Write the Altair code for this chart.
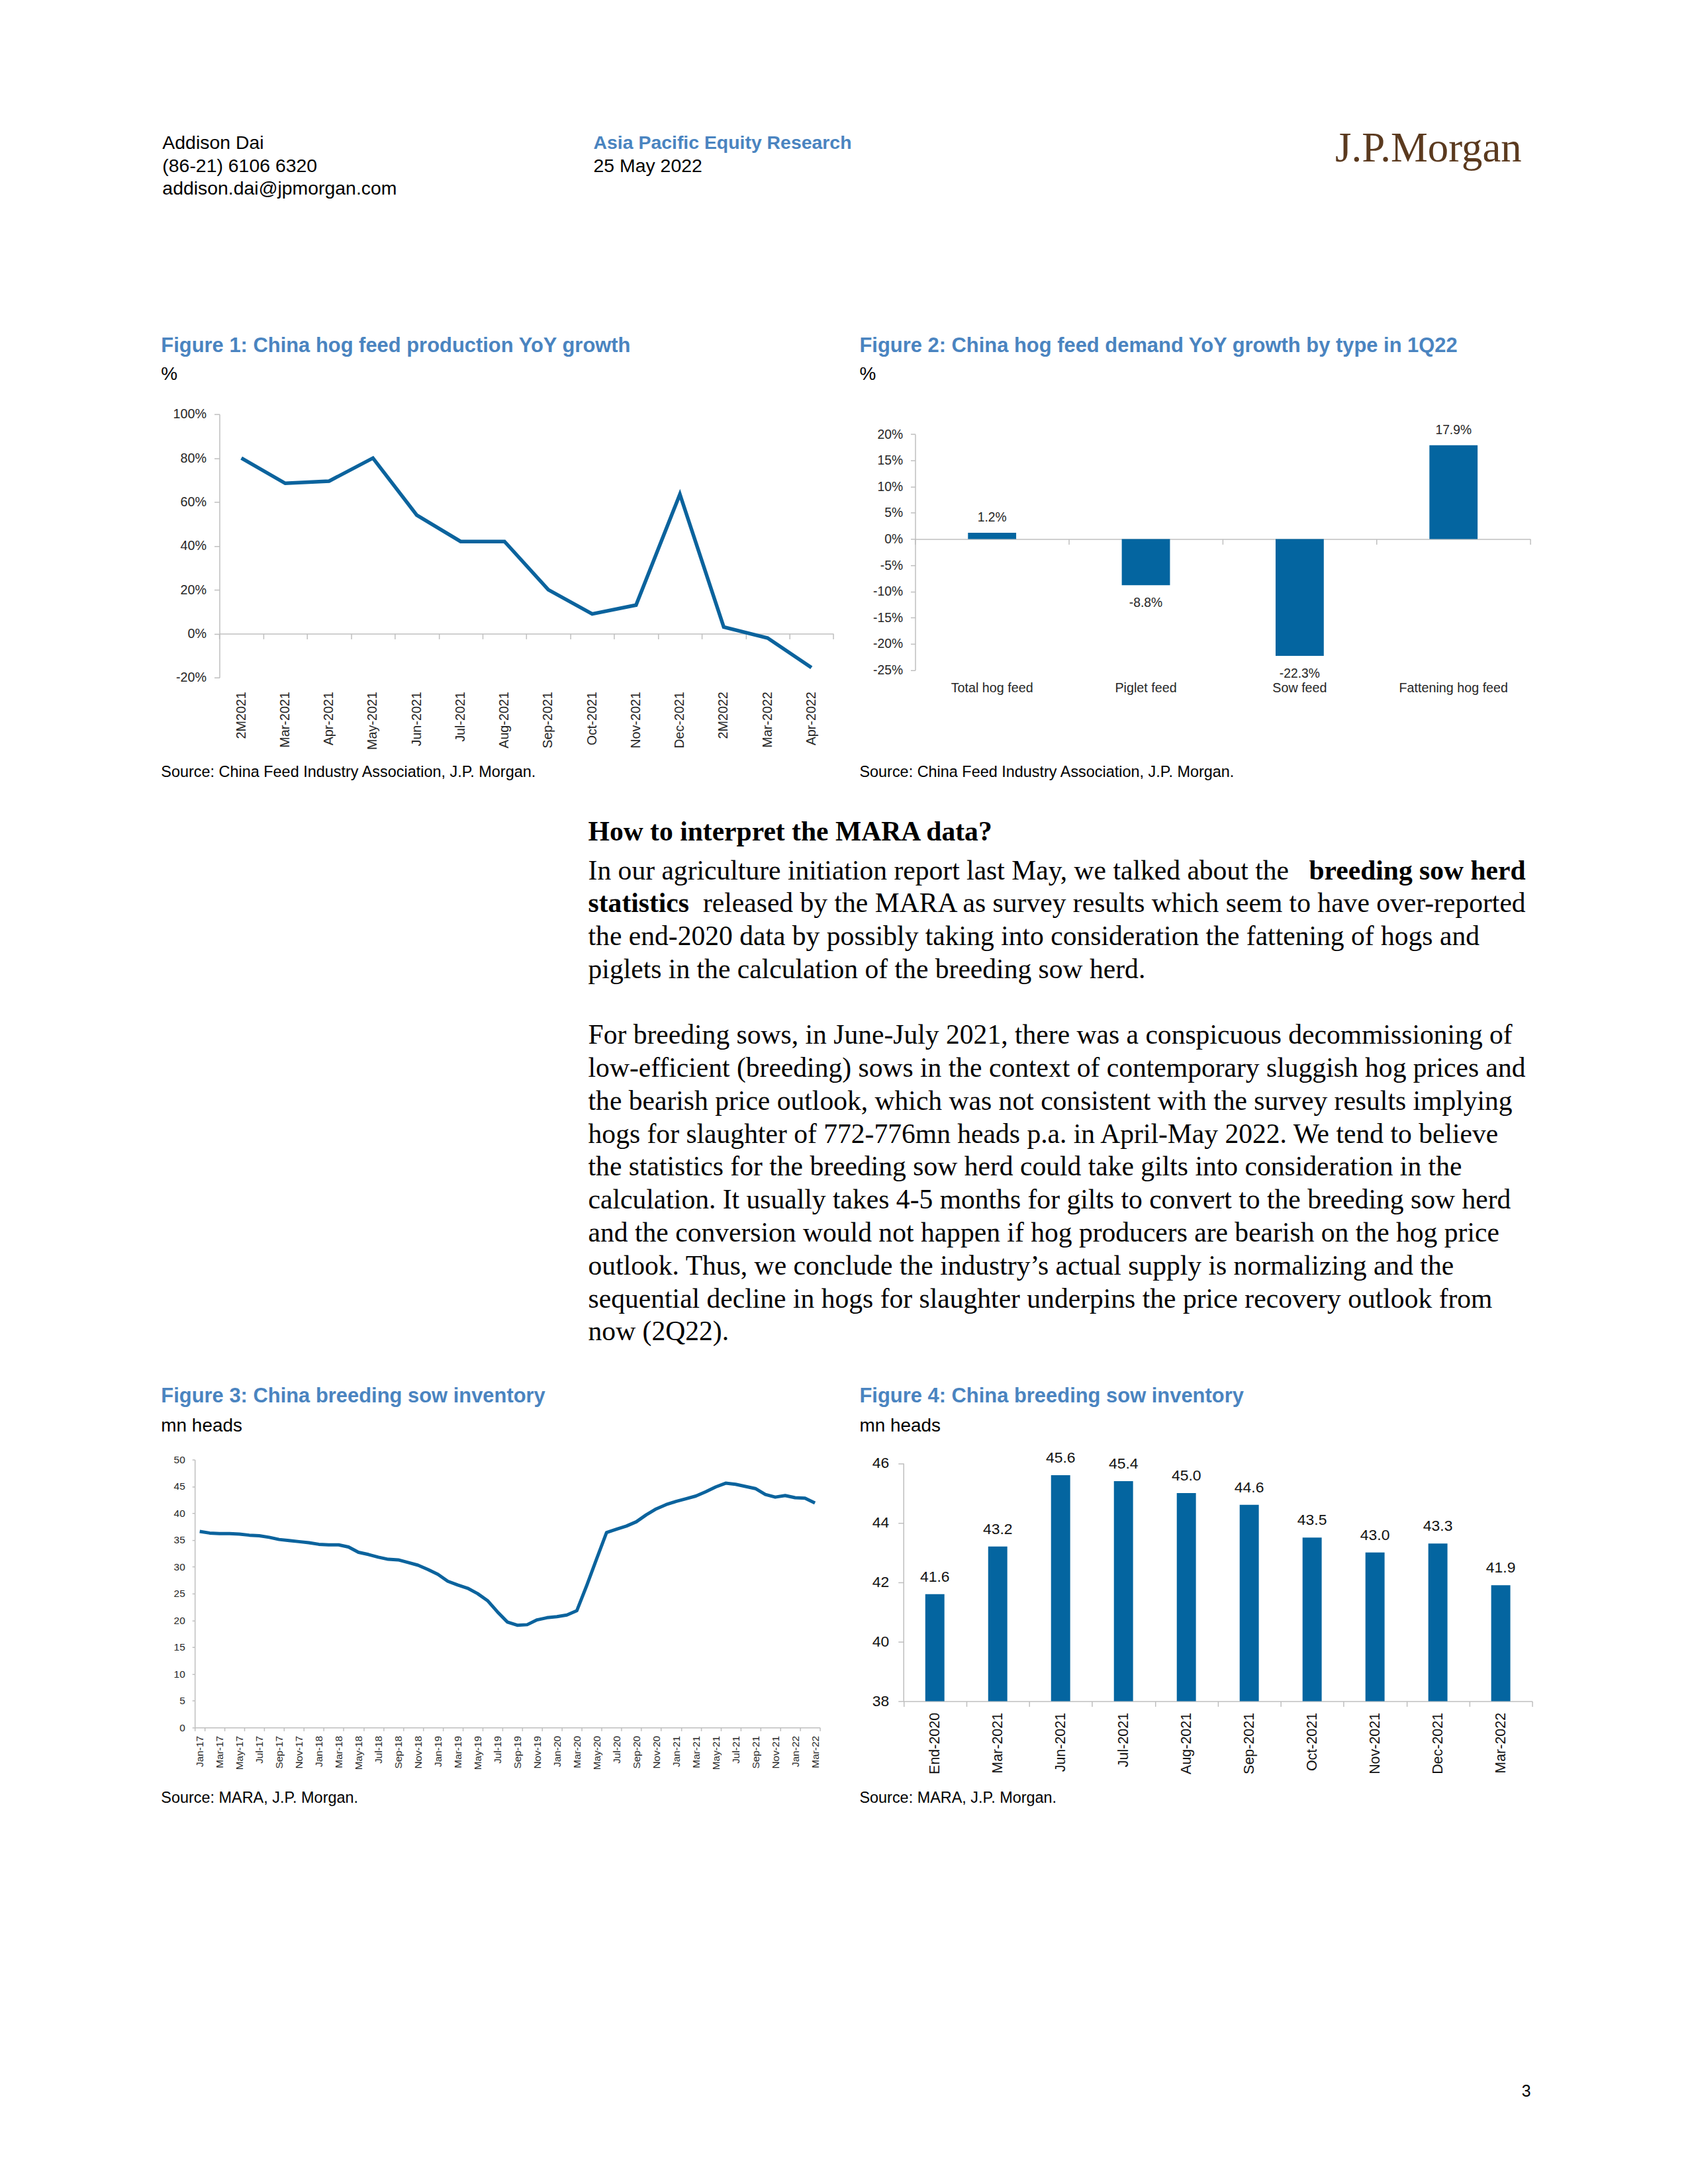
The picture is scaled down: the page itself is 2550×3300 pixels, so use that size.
import altair as alt
import pandas as pd

# ---------------- chart data ----------------
fig1_months = ["2M2021", "Mar-2021", "Apr-2021", "May-2021", "Jun-2021", "Jul-2021", "Aug-2021",
               "Sep-2021", "Oct-2021", "Nov-2021", "Dec-2021", "2M2022", "Mar-2022", "Apr-2022"]
fig1_growth = [80, 68.5, 69.5, 80, 54, 42, 42, 20, 9, 13, 63.5, 3, -2, -15.5]
fig1_ticks = [-20, 0, 20, 40, 60, 80, 100]

fig2_types = ["Total hog feed", "Piglet feed", "Sow feed", "Fattening hog feed"]
fig2_growth = [1.2, -8.8, -22.3, 17.9]
fig2_ticks = [-25, -20, -15, -10, -5, 0, 5, 10, 15, 20]

month_abbr = ["Jan", "Feb", "Mar", "Apr", "May", "Jun", "Jul", "Aug", "Sep", "Oct", "Nov", "Dec"]
fig3_years = ["17", "18", "19", "20", "21", "22"]
fig3_months = [f"{m}-{y}" for y in fig3_years for m in month_abbr][:63]
fig3_sows = [
    36.6, 36.3, 36.2, 36.2, 36.1, 35.9, 35.8, 35.5, 35.1, 34.9, 34.7, 34.5,
    34.2, 34.1, 34.1, 33.7, 32.7, 32.3, 31.8, 31.4, 31.3, 30.8, 30.3, 29.5,
    28.6, 27.3, 26.6, 26.0, 25.0, 23.7, 21.6, 19.7, 19.1, 19.2, 20.1, 20.5,
    20.7, 21.0, 21.8, 26.5, 31.5, 36.4, 37.0, 37.6, 38.4, 39.7, 40.8, 41.6,
    42.2, 42.7, 43.2, 44.0, 44.9, 45.6, 45.4, 45.0, 44.6, 43.5, 43.0, 43.3,
    42.9, 42.8, 41.9,
]
fig3_tick_labels = fig3_months[::2]
fig3_ticks = [0, 5, 10, 15, 20, 25, 30, 35, 40, 45, 50]

fig4_periods = ["End-2020", "Mar-2021", "Jun-2021", "Jul-2021", "Aug-2021", "Sep-2021",
                "Oct-2021", "Nov-2021", "Dec-2021", "Mar-2022"]
fig4_sows = [41.6, 43.2, 45.6, 45.4, 45.0, 44.6, 43.5, 43.0, 43.3, 41.9]
fig4_ticks = [38, 40, 42, 44, 46]

# ---------------- page text ----------------
hdr_author = ["Addison Dai", "(86-21) 6106 6320", "addison.dai@jpmorgan.com"]
hdr_series = "Asia Pacific Equity Research"
hdr_date = "25 May 2022"
hdr_logo = "J.P.Morgan"
fig_titles = ["Figure 1: China hog feed production YoY growth",
              "Figure 2: China hog feed demand YoY growth by type in 1Q22",
              "Figure 3: China breeding sow inventory",
              "Figure 4: China breeding sow inventory"]
fig_units = ["%", "%", "mn heads", "mn heads"]
fig_sources = ["Source: China Feed Industry Association, J.P. Morgan.",
               "Source: China Feed Industry Association, J.P. Morgan.",
               "Source: MARA, J.P. Morgan.",
               "Source: MARA, J.P. Morgan."]
body_heading = "How to interpret the MARA data?"
body_par1 = [
    "In our agriculture initiation report last May, we talked about the **breeding sow herd**",
    "**statistics** released by the MARA as survey results which seem to have over-reported",
    "the end-2020 data by possibly taking into consideration the fattening of hogs and",
    "piglets in the calculation of the breeding sow herd.",
]
body_par2 = [
    "For breeding sows, in June-July 2021, there was a conspicuous decommissioning of",
    "low-efficient (breeding) sows in the context of contemporary sluggish hog prices and",
    "the bearish price outlook, which was not consistent with the survey results implying",
    "hogs for slaughter of 772-776mn heads p.a. in April-May 2022. We tend to believe",
    "the statistics for the breeding sow herd could take gilts into consideration in the",
    "calculation. It usually takes 4-5 months for gilts to convert to the breeding sow herd",
    "and the conversion would not happen if hog producers are bearish on the hog price",
    "outlook. Thus, we conclude the industry\u2019s actual supply is normalizing and the",
    "sequential decline in hogs for slaughter underpins the price recovery outlook from",
    "now (2Q22).",
]
page_number = "3"

# ---------------- style ----------------
SANS = "Liberation Sans, Arial, Helvetica, sans-serif"
NARROW = "Liberation Sans Narrow, Arial Narrow, Liberation Sans, sans-serif"
SERIF = "Liberation Serif, Times New Roman, serif"
INK = "#000000"
LBL = "#262626"
TITLE_BLUE = "#4a84c0"
LINE = "#0b639d"
BAR = "#0465a0"
AXC = "#bfbfbf"
LOGO = "#5b3a1f"
NS = 0.88  # size factor: narrow chart lettering drawn with the regular face

# ---------------- page layout (page pixels) ----------------
OX, OY = 8, 8
W, H = 2530, 3284
COL_L, COL_R = 233, 1291
TXT_L, TXT_R = 880, 2300
BOX = {
    1: (321.4, 623.0, 1251.4, 1022.0),
    2: (1375.3, 653.3, 2307.3, 1010.7),
    3: (284.0, 2207.0, 1231.0, 2613.0),
    4: (1357.5, 2212.5, 2310.0, 2573.0),
}


def text_layer(s, x, y, size, font=SANS, weight="normal", color=INK, align="left"):
    return alt.Chart(pd.DataFrame({"t": [s]})).mark_text(
        align=align, baseline="alphabetic", font=font, fontSize=size,
        fontWeight=weight, color=color, limit=0
    ).encode(x=alt.value(x - OX), y=alt.value(y - OY), text="t:N")


def band_scale(cats, box):
    return alt.Scale(type="band", domain=cats, range=[box[0] - OX, box[2] - OX],
                     paddingInner=0, paddingOuter=0)


def lin_scale(dom, box):
    return alt.Scale(type="linear", domain=dom, range=[box[3] - OY, box[1] - OY],
                     nice=False, zero=False)


def y_at(v, dom, box):
    return (box[3] - OY) - (v - dom[0]) / (dom[1] - dom[0]) * (box[3] - box[1])


def left_axis(box, values, size, pad, font, tick=8, expr=None, color=LBL):
    kw = dict(orient="left", offset=-(box[0] - OX), values=values, title=None, grid=False,
              domainColor=AXC, domainWidth=1.5, tickColor=AXC, tickWidth=1.5, tickSize=tick,
              labelPadding=pad, labelFont=font, labelFontSize=size, labelColor=color,
              labelOverlap=False, labelLimit=0)
    if expr:
        kw["labelExpr"] = expr
    return alt.Axis(**kw)


layers = []

# ---- header ----
for i, s in enumerate(hdr_author):
    layers.append(text_layer(s, COL_L + 2, [221.5, 256, 290][i], 28.5))
layers.append(text_layer(hdr_series, 888, 221.5, 28.5, weight="bold", color=TITLE_BLUE))
layers.append(text_layer(hdr_date, 888, 256, 28.5))
layers.append(text_layer(hdr_logo, 2294, 240, 63, font=SERIF, color=LOGO, align="right"))

# ---- figure titles / units / sources ----
fig_x = [COL_L, COL_R, COL_L, COL_R]
title_y = [529, 529, 2120, 2120]
unit_y = [571, 571, 2164, 2164]
src_y = [1173, 1173, 2727, 2727]
for i in range(4):
    layers.append(text_layer(fig_titles[i], fig_x[i], title_y[i], 31, weight="bold",
                             color=TITLE_BLUE))
    layers.append(text_layer(fig_units[i], fig_x[i], unit_y[i], 28))
    layers.append(text_layer(fig_sources[i], fig_x[i], src_y[i], 23.5))

# ---- body text ----
LH = 49.9
layers.append(text_layer(body_heading, TXT_L, 1269, 41.7, font=SERIF, weight="bold"))


def body_line(s, y):
    parts = s.split("**")
    if len(parts) == 1:
        return [text_layer(s, TXT_L, y, 41.7, font=SERIF)]
    pre, bold, post = parts[0], parts[1], parts[2]
    if pre.strip() == "":
        return [text_layer(bold, TXT_L, y, 41.7, font=SERIF, weight="bold"),
                text_layer(post.strip(), TXT_R, y, 41.7, font=SERIF, align="right")]
    return [text_layer(pre.strip(), TXT_L, y, 41.7, font=SERIF),
            text_layer(bold, TXT_R, y, 41.7, font=SERIF, weight="bold", align="right")]


for k, s in enumerate(body_par1):
    layers += body_line(s, 1327.7 + k * LH)
for k, s in enumerate(body_par2):
    layers += body_line(s, 1327.7 + (k + len(body_par1) + 1) * LH)

layers.append(text_layer(page_number, 2308, 3172, 25, align="right"))

# ---- Figure 1: line ----
b1, dom1 = BOX[1], [-20, 100]
df1 = pd.DataFrame({"m": fig1_months, "v": fig1_growth})
x1s, y1s = band_scale(fig1_months, b1), lin_scale(dom1, b1)
layers.append(alt.Chart(df1).mark_point(opacity=0).encode(
    x=alt.X("m:N", scale=x1s, axis=alt.Axis(
        orient="bottom", offset=y_at(0, dom1, b1) - H, labels=False, title=None, grid=False,
        domainColor=AXC, domainWidth=1.5, tickColor=AXC, tickWidth=1.5, tickSize=8,
        tickBand="extent")),
    y=alt.Y("v:Q", scale=y1s, axis=None)))
layers.append(alt.Chart(df1).mark_line(color=LINE, strokeWidth=5.5).encode(
    x=alt.X("m:N", scale=x1s, bandPosition=0.5, axis=alt.Axis(
        orient="bottom", offset=(b1[3] - OY) - H, domain=False, ticks=False, tickSize=0,
        labelAngle=-90, labelPadding=21, labelFont=NARROW, labelFontSize=22.5 * NS,
        labelColor=LBL, title=None, grid=False, labelOverlap=False, labelLimit=0)),
    y=alt.Y("v:Q", scale=y1s,
            axis=left_axis(b1, fig1_ticks, 22.5 * NS, 12, NARROW, expr="datum.value + '%'"))))

# ---- Figure 2: bars ----
b2, dom2 = BOX[2], [-25, 20]
df2 = pd.DataFrame({"c": fig2_types, "v": fig2_growth,
                    "lbl": [f"{v:.1f}%" for v in fig2_growth]})
x2s, y2s = band_scale(fig2_types, b2), lin_scale(dom2, b2)
layers.append(alt.Chart(df2).mark_point(opacity=0).encode(
    x=alt.X("c:N", scale=x2s, axis=alt.Axis(
        orient="bottom", offset=y_at(0, dom2, b2) - H, labels=False, title=None, grid=False,
        domainColor=AXC, domainWidth=1.5, tickColor=AXC, tickWidth=1.5, tickSize=8,
        tickBand="extent")),
    y=alt.Y("v:Q", scale=y2s, axis=None)))
layers.append(alt.Chart(df2).mark_bar(size=73, color=BAR).encode(
    x=alt.X("c:N", scale=x2s, axis=alt.Axis(
        orient="bottom", offset=(b2[3] - OY) - H, domain=False, ticks=False, tickSize=0,
        labelAngle=0, labelPadding=17, labelFont=NARROW, labelFontSize=22.5 * NS,
        labelColor=LBL, title=None, grid=False, labelOverlap=False, labelLimit=0)),
    y=alt.Y("v:Q", scale=y2s,
            axis=left_axis(b2, fig2_ticks, 22 * NS, 12, NARROW, tick=7,
                           expr="datum.value + '%'")),
    y2=alt.datum(0)))
layers.append(alt.Chart(df2).transform_filter("datum.v >= 0").mark_text(
    baseline="alphabetic", dy=-17, font=NARROW, fontSize=22 * NS, color=LBL).encode(
    x=alt.X("c:N", scale=x2s, bandPosition=0.5, axis=None),
    y=alt.Y("v:Q", scale=y2s, axis=None), text="lbl:N"))
layers.append(alt.Chart(df2).transform_filter("datum.v < 0").mark_text(
    baseline="top", dy=18, font=NARROW, fontSize=22 * NS, color=LBL).encode(
    x=alt.X("c:N", scale=x2s, bandPosition=0.5, axis=None),
    y=alt.Y("v:Q", scale=y2s, axis=None), text="lbl:N"))

# ---- Figure 3: line ----
b3, dom3 = BOX[3], [0, 50]
df3 = pd.DataFrame({"m": fig3_months, "v": fig3_sows})
layers.append(alt.Chart(df3).mark_line(color=LINE, strokeWidth=5, strokeJoin="round").encode(
    x=alt.X("m:N", scale=band_scale(fig3_months, b3), bandPosition=0.5, axis=alt.Axis(
        orient="bottom", offset=(b3[3] - OY) - H, values=fig3_tick_labels, tickBand="extent",
        domainColor=AXC, domainWidth=1.5, tickColor=AXC, tickWidth=1.5, tickSize=5,
        labelAngle=-90, labelPadding=7, labelFont=NARROW, labelFontSize=15.5,
        labelColor=LBL, title=None, grid=False, labelOverlap=False, labelLimit=0)),
    y=alt.Y("v:Q", scale=lin_scale(dom3, b3),
            axis=left_axis(b3, fig3_ticks, 15.5, 11, NARROW, tick=4))))

# ---- Figure 4: bars ----
b4, dom4 = BOX[4], [38, 46]
df4 = pd.DataFrame({"p": fig4_periods, "v": fig4_sows})
x4s, y4s = band_scale(fig4_periods, b4), lin_scale(dom4, b4)
layers.append(alt.Chart(df4).mark_bar(size=29, color=BAR).encode(
    x=alt.X("p:N", scale=x4s, axis=alt.Axis(
        orient="bottom", offset=(b4[3] - OY) - H, tickBand="extent",
        domainColor=AXC, domainWidth=1.5, tickColor=AXC, tickWidth=1.5, tickSize=8,
        labelAngle=-90, labelPadding=9, labelFont=SANS, labelFontSize=21.5,
        labelColor="#111111", title=None, grid=False, labelOverlap=False, labelLimit=0)),
    y=alt.Y("v:Q", scale=y4s, axis=left_axis(b4, fig4_ticks, 23, 14, SANS, color="#111111")),
    y2=alt.datum(38)))
layers.append(alt.Chart(df4).mark_text(
    baseline="alphabetic", dy=-19, font=SANS, fontSize=23, color="#111111").encode(
    x=alt.X("p:N", scale=x4s, bandPosition=0.5, axis=None),
    y=alt.Y("v:Q", scale=y4s, axis=None),
    text=alt.Text("v:Q", format=".1f")))

chart = alt.layer(*layers).resolve_scale(
    x="independent", y="independent"
).resolve_axis(
    x="independent", y="independent"
).properties(width=W, height=H, padding=0).configure_view(stroke=None)

chart.save("out.html", embed_options={"renderer": "svg", "actions": False})
